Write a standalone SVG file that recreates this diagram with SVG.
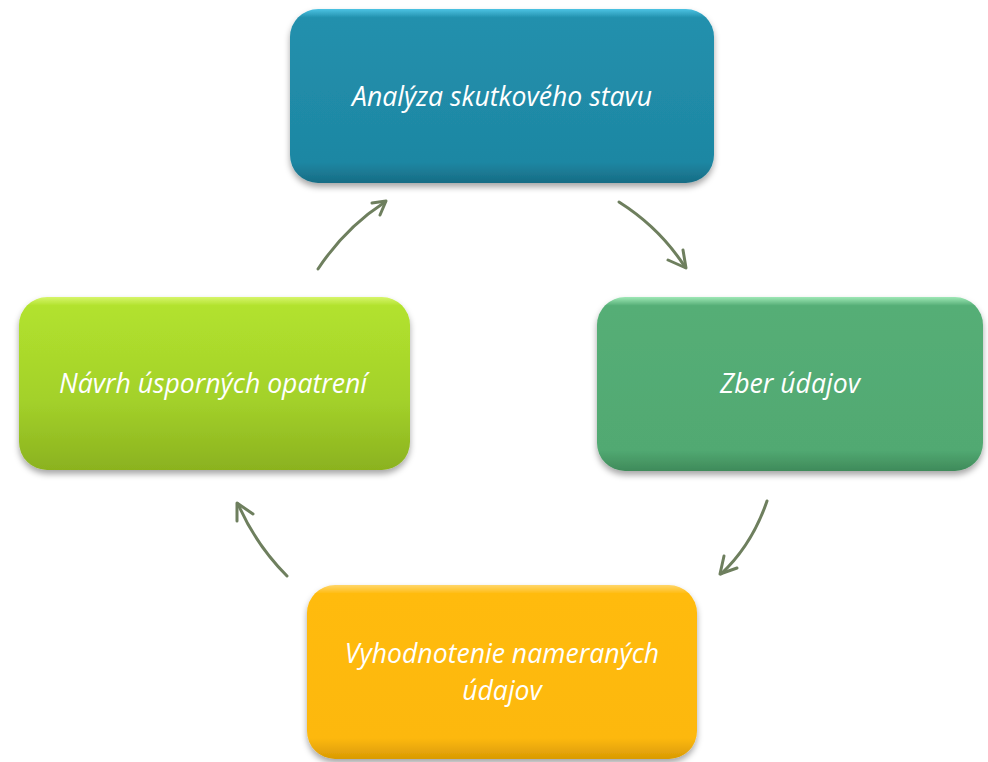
<svg xmlns="http://www.w3.org/2000/svg" width="988" height="762" viewBox="0 0 988 762">
<defs>
<style>
.lbl{font-family:"Open Sans","Liberation Sans",sans-serif;font-style:italic;font-size:26.6px;fill:#ffffff;text-anchor:middle}
.conn{fill:none;stroke:#6e7f5e;stroke-width:3;stroke-linecap:round;stroke-linejoin:round}
</style>
<filter id="sh" x="-10%" y="-10%" width="120%" height="130%">
<feDropShadow dx="0" dy="4" stdDeviation="3" flood-color="#000" flood-opacity="0.35"/>
</filter>
<linearGradient id="gTop" x1="0" y1="0" x2="0" y2="1">
<stop offset="0" stop-color="#4cc3e3"/><stop offset="0.05" stop-color="#2290ad"/><stop offset="0.88" stop-color="#1e87a3"/><stop offset="1" stop-color="#176c84"/>
</linearGradient>
<linearGradient id="gRight" x1="0" y1="0" x2="0" y2="1">
<stop offset="0" stop-color="#9fe8b6"/><stop offset="0.05" stop-color="#55ae76"/><stop offset="0.88" stop-color="#51a972"/><stop offset="1" stop-color="#3f8a5a"/>
</linearGradient>
<linearGradient id="gLeft" x1="0" y1="0" x2="0" y2="1">
<stop offset="0" stop-color="#d6f56a"/><stop offset="0.05" stop-color="#b2e22e"/><stop offset="0.6" stop-color="#a3d12a"/><stop offset="1" stop-color="#8bb21f"/>
</linearGradient>
<linearGradient id="gBot" x1="0" y1="0" x2="0" y2="1">
<stop offset="0" stop-color="#ffd66a"/><stop offset="0.05" stop-color="#ffbb0e"/><stop offset="0.88" stop-color="#fdb80b"/><stop offset="1" stop-color="#d99a05"/>
</linearGradient>
</defs>
<rect width="988" height="762" fill="#ffffff"/>
<g id="connectors">
<path class="conn" d="M318,269 Q345,228 385,202"/>
<path class="conn" d="M372,203 L386,201 L380,215"/>
<path class="conn" d="M619,202 Q660,228 685,267"/>
<path class="conn" d="M668,260 L686,268 L683,250"/>
<path class="conn" d="M767,501 Q752,545 721,574"/>
<path class="conn" d="M724,556 L720,574 L737,568"/>
<path class="conn" d="M287,576 Q256,545 238,504"/>
<path class="conn" d="M237,521 L237,503 L253,514"/>
</g>
<g id="node-analyza">
<rect x="290" y="9" width="424" height="174" rx="28" fill="url(#gTop)" filter="url(#sh)"/>
<text class="lbl" x="502" y="106">Analýza skutkového stavu</text>
</g>
<g id="node-zber">
<rect x="597" y="297" width="386" height="174" rx="28" fill="url(#gRight)" filter="url(#sh)"/>
<text class="lbl" x="790" y="393">Zber údajov</text>
</g>
<g id="node-vyhodnotenie">
<rect x="307" y="585" width="390" height="174" rx="28" fill="url(#gBot)" filter="url(#sh)"/>
<text class="lbl" x="502" y="663">Vyhodnotenie nameraných</text>
<text class="lbl" x="502" y="700">údajov</text>
</g>
<g id="node-navrh">
<rect x="19" y="297" width="391" height="173" rx="28" fill="url(#gLeft)" filter="url(#sh)"/>
<text class="lbl" x="213" y="393">Návrh úsporných opatrení</text>
</g>
</svg>
